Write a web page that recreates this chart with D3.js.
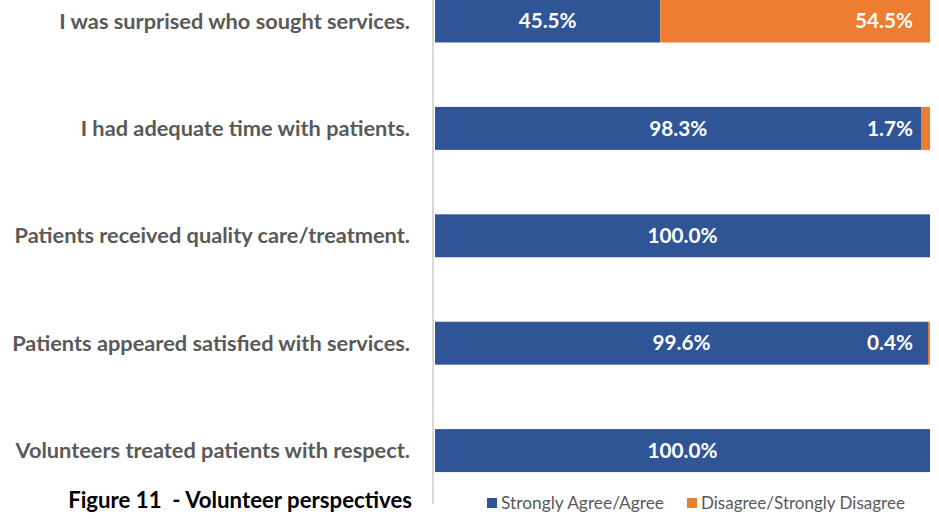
<!DOCTYPE html>
<html>
<head>
<meta charset="utf-8">
<script src="https://cdn.jsdelivr.net/npm/d3@7"></script>
<style>
  html, body { margin: 0; padding: 0; background: #fff; }
  svg { display: block; }
  text { font-family: Lato, "Open Sans", sans-serif; }
</style>
</head>
<body>
<svg id="chart" width="939" height="519"></svg>
<script>
const categories = [
  "I was surprised who sought services.",
  "I had adequate time with patients.",
  "Patients received quality care/treatment.",
  "Patients appeared satisfied with services.",
  "Volunteers treated patients with respect."
];
const agree = [45.5, 98.3, 100.0, 99.6, 100.0];
const disagree = [54.5, 1.7, 0, 0.4, 0];
const seriesNames = ["Strongly Agree/Agree", "Disagree/Strongly Disagree"];
const colors = ["#2F5597", "#ED7D31"];
const title = "Figure 11  - Volunteer perspectives";

const svg = d3.select("#chart");

// helper: fit font size so text reaches target width
function fitSize(sel, target, base) {
  const w = sel.node().getComputedTextLength();
  const s = base * target / w;
  sel.attr("font-size", s);
  return s;
}

const x = d3.scaleLinear().domain([0, 100]).range([435, 930]);
const y = d3.scaleBand().domain(categories).range([-32.7, 504.3])
  .paddingInner(0.6).paddingOuter(0.3);

const rows = categories.map((c, i) => ({ c, a: agree[i], d: disagree[i] }));

// bars
const g = svg.append("g");
g.selectAll("rect.agree").data(rows).join("rect")
  .attr("class", "agree")
  .attr("x", x(0)).attr("y", d => y(d.c))
  .attr("width", d => x(d.a) - x(0)).attr("height", y.bandwidth())
  .attr("fill", colors[0]);
g.selectAll("rect.dis").data(rows.filter(d => d.d > 0)).join("rect")
  .attr("class", "dis")
  .attr("x", d => x(d.a)).attr("y", d => y(d.c))
  .attr("width", d => x(d.a + d.d) - x(d.a)).attr("height", y.bandwidth())
  .attr("fill", colors[1]);

// axis line (y axis)
const yAxis = svg.append("g").attr("transform", "translate(433,0)")
  .call(d3.axisLeft(y).tickSize(0).tickPadding(23));
yAxis.select(".domain").attr("d", "M0,-5V504").attr("stroke", "#d9d9d9").attr("stroke-width", 2);
yAxis.selectAll("text")
  .attr("fill", "#595959").attr("font-weight", 700)
  .attr("font-family", "Lato, sans-serif").attr("font-size", 20).attr("dy", "0.35em");
// fit label size to longest label width
let maxW = 0;
yAxis.selectAll("text").each(function() {
  const w = this.getComputedTextLength();
  if (w > maxW) { maxW = w; }
});
const labSize = 20 * 398 / maxW;
yAxis.selectAll("text").attr("font-size", labSize);

// data labels
const fmt = v => v.toFixed(1) + "%";
const probe = svg.append("text").attr("font-weight", 700).attr("font-size", 20).text("100.0%");
const dlSize = 20 * 70 / probe.node().getComputedTextLength();
probe.remove();

g.selectAll("text.la").data(rows).join("text")
  .attr("class", "la")
  .attr("x", d => (x(0) + x(d.a)) / 2)
  .attr("y", d => y(d.c) + y.bandwidth() / 2)
  .attr("dy", "0.35em").attr("text-anchor", "middle")
  .attr("fill", "#fff").attr("font-weight", 700).attr("font-size", dlSize)
  .text(d => fmt(d.a));
g.selectAll("text.ld").data(rows.filter(d => d.d > 0)).join("text")
  .attr("class", "ld")
  .attr("x", d => x(d.a + d.d) - 17)
  .attr("y", d => y(d.c) + y.bandwidth() / 2)
  .attr("dy", "0.35em").attr("text-anchor", "end")
  .attr("fill", "#fff").attr("font-weight", 700).attr("font-size", dlSize)
  .text(d => fmt(d.d));

// title
const t = svg.append("text")
  .attr("x", 412).attr("y", 508).attr("text-anchor", "end")
  .attr("fill", "#000").attr("font-weight", 700).attr("font-size", 20)
  .style("white-space", "pre")
  .text(title);
fitSize(t, 344, 20);

// legend
const legX = [487, 687];
const legW = [163, 204];
seriesNames.forEach((n, i) => {
  svg.append("rect").attr("x", legX[i]).attr("y", 498).attr("width", 10).attr("height", 10)
    .attr("fill", colors[i]);
  const lt = svg.append("text").attr("x", legX[i] + 14).attr("y", 509)
    .attr("fill", "#595959").attr("font-size", 16).text(n);
  fitSize(lt, legW[i], 16);
});
</script>
</body>
</html>
